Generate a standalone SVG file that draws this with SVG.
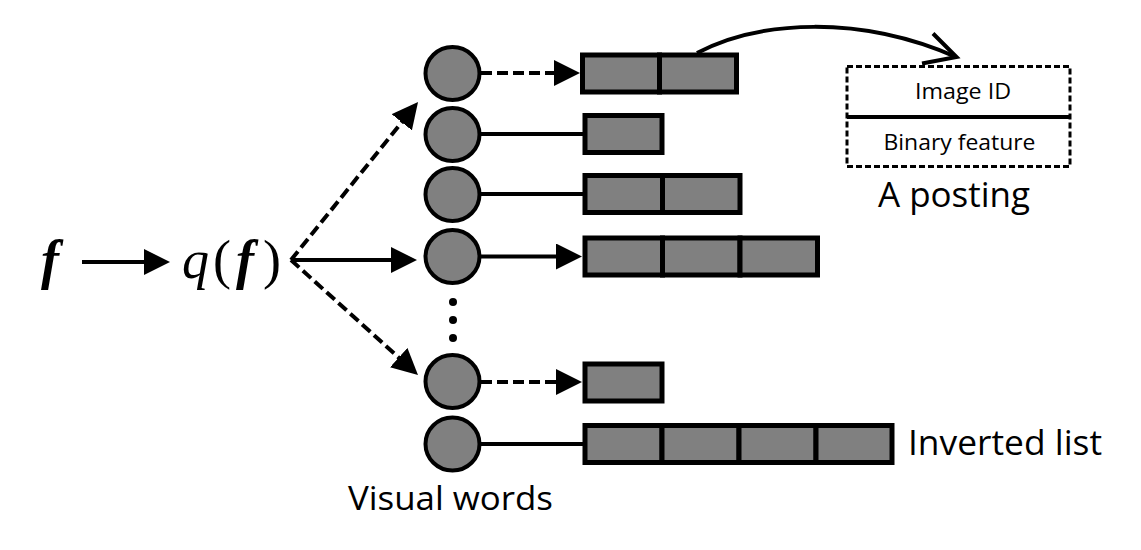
<svg xmlns="http://www.w3.org/2000/svg" width="1141" height="550" viewBox="0 0 1141 550">
<style>
.word{fill:#808080;stroke:#000;stroke-width:4}
.cell{fill:#808080;stroke:#000;stroke-width:5}
.ln{fill:none;stroke:#000;stroke-width:4}
.dash{stroke-dasharray:11 5}
.arr{marker-end:url(#ah)}
.lbl{font-family:"Open Sans","Noto Sans",sans-serif;fill:#000}
.math{font-family:"Liberation Serif","Times New Roman",serif;fill:#000}
</style>
<defs>
<marker id="ah" markerUnits="userSpaceOnUse" viewBox="0 0 26 26" markerWidth="26" markerHeight="26" refX="2" refY="13" orient="auto">
<path d="M0,0 L26,13 L0,26 z" fill="#000"/>
</marker>
</defs>
<g id="f-label">
<text class="math" x="41" y="278" font-size="54" font-weight="bold" font-style="italic">f</text>
</g>
<g id="qf-label">
<text class="math" x="182" y="278" font-size="54" font-style="italic">q</text>
<text class="math" x="213" y="278" font-size="54">(</text>
<text class="math" x="236" y="278" font-size="54" font-weight="bold" font-style="italic">f</text>
<text class="math" x="263" y="278" font-size="54">)</text>
</g>
<g id="connectors">
<path class="ln arr" d="M82,262 L146,262"/>
<path class="ln arr" d="M291,260 L393,260"/>
<path class="ln dash arr" d="M291,260 L403,120.7"/>
<path class="ln dash arr" d="M291,260 L400.2,358.9"/>
<path class="ln dash arr" d="M481,73 L556,73"/>
<path class="ln" d="M481,134 L585,134"/>
<path class="ln" d="M481,194 L585,194"/>
<path class="ln arr" d="M481,256.5 L558,256.5"/>
<path class="ln dash arr" d="M481,382 L558,382"/>
<path class="ln" d="M481,444 L585,444"/>
<path class="ln" d="M697,53 C760,20 860,15 956,57"/>
<path class="ln" d="M933,33.5 L956.5,57 L922,63.5" stroke-linejoin="miter"/>
</g>
<g id="word1">
<ellipse class="word" cx="452.5" cy="73.5" rx="27" ry="26.5"/>
</g>
<g id="word2">
<ellipse class="word" cx="452.5" cy="134.5" rx="27" ry="26.5"/>
</g>
<g id="word3">
<ellipse class="word" cx="452.5" cy="194.5" rx="27" ry="26.5"/>
</g>
<g id="word4">
<ellipse class="word" cx="452.5" cy="256.5" rx="27" ry="26.5"/>
</g>
<g id="ellipsis">
<circle cx="453" cy="302" r="4" fill="#000"/>
<circle cx="453" cy="320" r="4" fill="#000"/>
<circle cx="453" cy="338" r="4" fill="#000"/>
</g>
<g id="word5">
<ellipse class="word" cx="452.5" cy="381.5" rx="27" ry="26.5"/>
</g>
<g id="word6">
<ellipse class="word" cx="452.5" cy="444" rx="27" ry="26.5"/>
</g>
<g id="list1">
<rect class="cell" x="582.5" y="55" width="77" height="37"/>
<rect class="cell" x="659.5" y="55" width="77" height="37"/>
</g>
<g id="list2">
<rect class="cell" x="585" y="115.5" width="77" height="37"/>
</g>
<g id="list3">
<rect class="cell" x="585" y="175.5" width="77.5" height="37"/>
<rect class="cell" x="662.5" y="175.5" width="77.5" height="37"/>
</g>
<g id="list4">
<rect class="cell" x="585" y="238" width="77.5" height="37"/>
<rect class="cell" x="662.5" y="238" width="77.5" height="37"/>
<rect class="cell" x="740" y="238" width="77.5" height="37"/>
</g>
<g id="list5">
<rect class="cell" x="585" y="364" width="77" height="37"/>
</g>
<g id="list6">
<rect class="cell" x="585" y="425.5" width="77" height="37"/>
<rect class="cell" x="662" y="425.5" width="77" height="37"/>
<rect class="cell" x="739" y="425.5" width="77" height="37"/>
<rect class="cell" x="816" y="425.5" width="76" height="37"/>
</g>
<g id="posting">
<rect x="847" y="66.5" width="223" height="100" fill="#fff" stroke="#000" stroke-width="3" stroke-dasharray="6 3"/>
<line x1="847" y1="117" x2="1070" y2="117" stroke="#000" stroke-width="4"/>
<text class="lbl" x="963" y="99" font-size="22" text-anchor="middle" textLength="96" lengthAdjust="spacingAndGlyphs">Image ID</text>
<text class="lbl" x="959.5" y="150" font-size="22" text-anchor="middle" textLength="152" lengthAdjust="spacingAndGlyphs">Binary feature</text>
</g>
<g id="labels">
<text class="lbl" x="878" y="207" font-size="35" textLength="152" lengthAdjust="spacingAndGlyphs">A posting</text>
<text class="lbl" x="908" y="455" font-size="35" textLength="194" lengthAdjust="spacingAndGlyphs">Inverted list</text>
<text class="lbl" x="348" y="510" font-size="33" textLength="205" lengthAdjust="spacingAndGlyphs">Visual words</text>
</g>
</svg>
